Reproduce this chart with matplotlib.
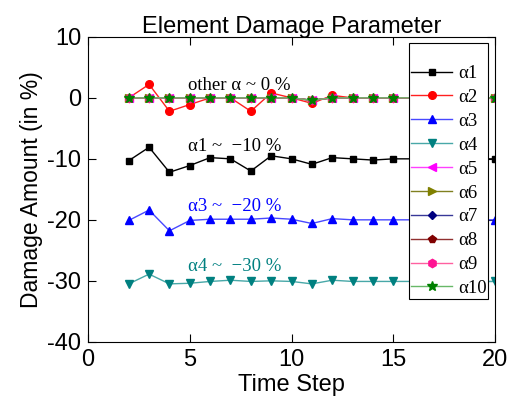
import matplotlib
matplotlib.use("Agg")
import matplotlib.pyplot as plt

plt.rcParams["axes.unicode_minus"] = False

steps = list(range(2, 21))
a1 = [-10.3, -8.1, -12.2, -11.1, -9.8, -10.0, -12.0, -9.5, -10.0, -10.9, -9.8, -10.0, -10.2, -10.0, -10.0, -10.0, -10.0, -10.0, -10.0]
a2 = [0.0, 2.2, -2.2, -1.1, 0.0, 0.0, -2.2, 0.8, 0.0, -0.9, 0.4, 0.0, 0.0, 0.0, 0.0, 0.0, 0.0, 0.0, 0.0]
a3 = [-20.1, -18.4, -21.8, -20.1, -19.9, -19.9, -19.9, -19.7, -19.9, -20.6, -19.8, -20.0, -20.0, -20.0, -20.0, -20.0, -20.0, -20.0, -20.0]
a4 = [-30.5, -28.9, -30.5, -30.4, -30.1, -29.9, -30.1, -30.0, -30.1, -30.5, -29.9, -30.1, -30.1, -30.1, -30.1, -30.1, -30.1, -30.1, -30.1]
other = [0.0, 0.0, 0.0, 0.0, 0.0, 0.0, 0.0, 0.0, 0.0, -0.4, 0.0, 0.0, 0.0, 0.0, 0.0, 0.0, 0.0, 0.0, 0.0]

labels = ["α1", "α2", "α3", "α4", "α5", "α6", "α7", "α8", "α9", "α10"]
series = [a1, a2, a3, a4, other, other, other, other, other, other]
markers = ["s", "o", "^", "v", "<", ">", "D", "p", "h", "*"]
mcolors = ["#000000", "#ff0000", "#0000ff", "#008080", "#ff00ff", "#808000", "#000080", "#800000", "#ff1493", "#008000"]
lcolors = ["#000000", "#ff2020", "#4848ff", "#48a8a8", "#ff40ff", "#808020", "#383898", "#903030", "#ff60a0", "#68b868"]
msizes = [5, 5.5, 6, 6, 6, 6, 4.5, 6, 6, 7.5]

fig = plt.figure(figsize=(5.09, 4.05), dpi=100)
ax = fig.add_axes([0.173, 0.156, 0.7995, 0.753])

for lab, ys, m, mc, lc, ms in zip(labels, series, markers, mcolors, lcolors, msizes):
    ax.plot(steps, ys, color=lc, lw=1.0, marker=m, markersize=ms,
            markerfacecolor=mc, markeredgecolor=mc, label=lab)

serif = ["Liberation Serif", "DejaVu Serif"]
ax.text(4.9, 2.1, "other α ~ 0 %", family=serif, fontsize=13.5, color="black", va="center")
ax.text(4.9, -8.0, "α1 ~  −10 %", family=serif, fontsize=13.5, color="black", va="center")
ax.text(4.9, -17.8, "α3 ~  −20 %", family=serif, fontsize=13.5, color="#0000ff", va="center")
ax.text(4.9, -27.7, "α4 ~  −30 %", family=serif, fontsize=13.5, color="#008080", va="center")

ax.set_xlim(0, 20)
ax.set_ylim(-40, 10)
ax.set_xticks([0, 5, 10, 15, 20])
ax.set_yticks([-40, -30, -20, -10, 0, 10])
ax.tick_params(direction="in", top=True, right=True, length=6, width=0.8, labelsize=17, pad=5)
for lbl in ax.get_xticklabels() + ax.get_yticklabels():
    lbl.set_family("Liberation Sans")
ax.set_title("Element Damage Parameter", family="Liberation Sans", fontsize=17, pad=3)
ax.set_xlabel("Time Step", family="Liberation Sans", fontsize=17, labelpad=2)
ax.set_ylabel("Damage Amount (in %)", family="Liberation Sans", fontsize=16.5, labelpad=3)

leg = ax.legend(loc="upper right", prop={"family": serif, "size": 13.5}, title=" ",
                title_fontsize=9,
                frameon=True, fancybox=False, edgecolor="black", framealpha=1,
                handlelength=2.2, labelspacing=0.36, borderpad=0.1, handletextpad=0.3,
                borderaxespad=0.35)
leg.get_frame().set_linewidth(0.8)

fig.savefig("out.png", dpi=100)
